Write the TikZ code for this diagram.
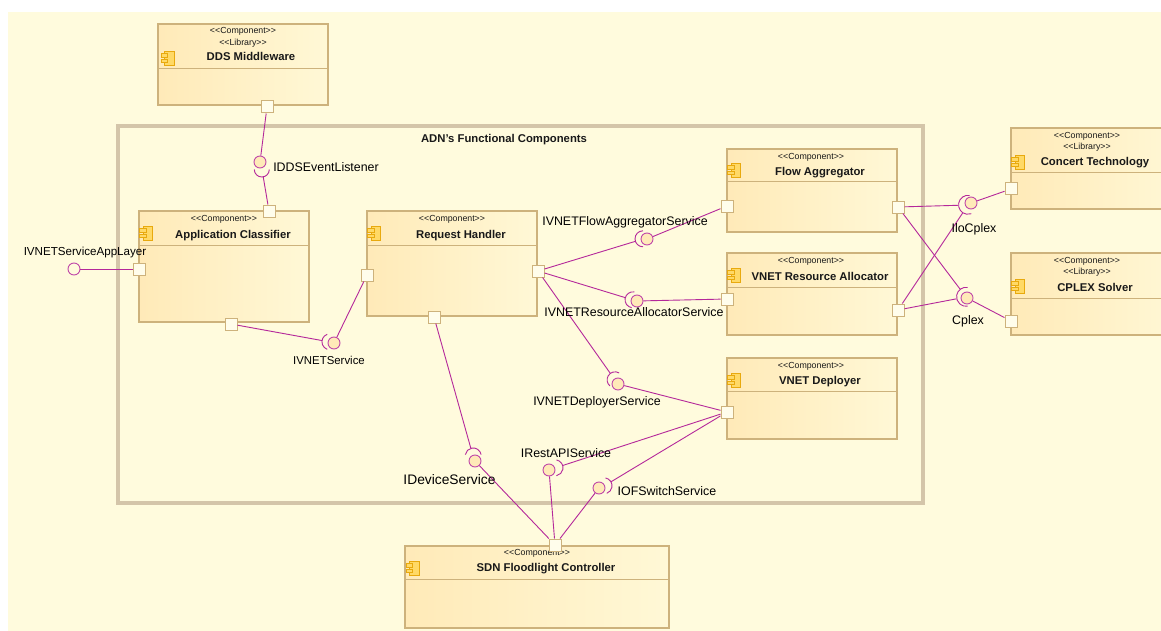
\documentclass[tikz,border=0pt]{standalone}
\usepackage{fontspec}
\setmainfont{Liberation Sans}
\usepackage{tikz}
\usetikzlibrary{shapes.geometric, arrows}
\definecolor{canvasyellow}{HTML}{FFFBDD}
\definecolor{framegrey}{HTML}{D4C5A9}
\definecolor{boxedge}{HTML}{CDB27C}
\definecolor{boxleft}{HTML}{FFEAB8}
\definecolor{boxright}{HTML}{FFF8D6}
\definecolor{linkpurple}{HTML}{B5289A}
\definecolor{iconorange}{HTML}{E8A90E}
\definecolor{iconfill}{HTML}{FFD966}
\tikzstyle{component} = [rectangle, draw=boxedge, line width=1.2pt, left color=boxleft, right color=boxright, minimum width=170pt, inner sep=0pt]
\tikzstyle{port} = [rectangle, draw=boxedge, line width=1pt, fill=canvasyellow!60!white, minimum width=12pt, minimum height=12pt, inner sep=0pt]
\tikzstyle{ball} = [circle, draw=linkpurple!85, line width=0.9pt, fill=boxleft, minimum size=12pt, inner sep=0pt]
\tikzstyle{socket} = [circle, minimum size=16pt, inner sep=0pt]
\tikzstyle{link} = [draw=linkpurple, line width=0.9pt]
\tikzstyle{divider} = [draw=boxedge, line width=1pt]
\tikzstyle{stereo} = [font=\fontsize{8.8}{10}\selectfont, inner sep=0pt, text=black!90, text height=7.3pt, text depth=1pt]
\tikzstyle{title} = [font=\fontsize{11.3}{13}\selectfont\bfseries, inner sep=0pt, text=black!90, text height=9pt, text depth=1pt]
\tikzstyle{iface} = [font=\fontsize{12.4}{14}\selectfont, inner sep=0pt, text=black, text height=10pt, text depth=1pt]
\tikzset{compicon/.pic={
    \draw[draw=iconorange, fill=iconfill, line width=0.8pt] (-3,-7) rectangle (6.5,7);
    \draw[draw=iconorange, fill=iconfill, line width=0.8pt] (-6.5,1) rectangle (0,4.5);
    \draw[draw=iconorange, fill=iconfill, line width=0.8pt] (-6.5,-4.5) rectangle (0,-1);
}}
\begin{document}
\begin{tikzpicture}[x=1pt,y=1pt]
  \clip (0,0) rectangle (1161,-631);
  \fill[white] (0,0) rectangle (1161,-631);
  \fill[canvasyellow] (8,-12) rectangle (1161,-631);
  \node (adn) [rectangle, draw=framegrey, line width=3.5pt, minimum width=805pt, minimum height=377pt, inner sep=0pt] at (520.5,-314.5) {};
  \node (adn title) [title] at (504,-139) {ADN's Functional Components};
  % components
  \node (dds) [component, minimum height=81pt] at (243,-64.5) {};
  \node (classifier) [component, minimum height=111pt] at (224,-266.5) {};
  \node (handler) [component, minimum height=105pt] at (452,-263.5) {};
  \node (aggregator) [component, minimum height=83pt] at (812,-190.5) {};
  \node (allocator) [component, minimum height=82pt] at (812,-294) {};
  \node (deployer) [component, minimum height=81pt] at (812,-398.5) {};
  \node (concert) [component, minimum height=81pt] at (1096,-168.5) {};
  \node (cplex) [component, minimum height=82pt] at (1096,-294) {};
  \node (sdn) [component, minimum width=264pt, minimum height=82pt] at (537,-587) {};
  \draw[divider] (158,-69) -- (328,-69);
  \draw[divider] (139,-245) -- (309,-245);
  \draw[divider] (367,-245) -- (537,-245);
  \draw[divider] (727,-182) -- (897,-182);
  \draw[divider] (727,-287) -- (897,-287);
  \draw[divider] (727,-391) -- (897,-391);
  \draw[divider] (1011,-173) -- (1181,-173);
  \draw[divider] (1011,-298) -- (1181,-298);
  \draw[divider] (405,-579) -- (669,-579);
  \pic at (167.5,-58) {compicon};
  \pic at (146,-233) {compicon};
  \pic at (374,-233) {compicon};
  \pic at (734,-170) {compicon};
  \pic at (734,-275) {compicon};
  \pic at (734,-380) {compicon};
  \pic at (1018,-162) {compicon};
  \pic at (1018,-286) {compicon};
  \pic at (412.5,-568) {compicon};
  % stereotypes and names
  \node (dds s1) [stereo] at (243,-30) {{<}{<}Component{>}{>}};
  \node (dds s2) [stereo] at (243,-42) {{<}{<}Library{>}{>}};
  \node (dds name) [title] at (251,-57) {DDS  Middleware};
  \node (classifier s1) [stereo] at (224,-218) {{<}{<}Component{>}{>}};
  \node (classifier name) [title] at (233,-234) {Application Classifier};
  \node (handler s1) [stereo] at (452,-218) {{<}{<}Component{>}{>}};
  \node (handler name) [title] at (461,-234) {Request Handler};
  \node (aggregator s1) [stereo] at (811,-156) {{<}{<}Component{>}{>}};
  \node (aggregator name) [title] at (820,-172) {Flow Aggregator};
  \node (allocator s1) [stereo] at (811,-260) {{<}{<}Component{>}{>}};
  \node (allocator name) [title] at (820,-276) {VNET Resource Allocator};
  \node (deployer s1) [stereo] at (811,-365) {{<}{<}Component{>}{>}};
  \node (deployer name) [title] at (820,-380) {VNET Deployer};
  \node (concert s1) [stereo] at (1087,-135) {{<}{<}Component{>}{>}};
  \node (concert s2) [stereo] at (1087,-146) {{<}{<}Library{>}{>}};
  \node (concert name) [title] at (1095,-162) {Concert Technology};
  \node (cplex s1) [stereo] at (1087,-260) {{<}{<}Component{>}{>}};
  \node (cplex s2) [stereo] at (1087,-271) {{<}{<}Library{>}{>}};
  \node (cplex name) [title] at (1095,-287) {CPLEX Solver};
  \node (sdn s1) [stereo] at (537,-552) {{<}{<}Component{>}{>}};
  \node (sdn name) [title] at (546,-567) {SDN Floodlight Controller};
  % ports
  \node (dds port) [port] at (267,-107) {};
  \node (classifier top) [port] at (269,-211) {};
  \node (classifier left) [port] at (139,-269) {};
  \node (classifier bottom) [port] at (231,-324) {};
  \node (handler left) [port] at (367,-275) {};
  \node (handler right) [port] at (538,-271) {};
  \node (handler bottom) [port] at (434,-317) {};
  \node (aggregator left) [port] at (727,-206) {};
  \node (aggregator right) [port] at (898,-207) {};
  \node (allocator left) [port] at (727,-299) {};
  \node (allocator right) [port] at (898,-310) {};
  \node (deployer left) [port] at (727,-412) {};
  \node (concert port) [port] at (1011,-189) {};
  \node (cplex port) [port] at (1011,-321) {};
  \node (sdn port) [port] at (555,-545) {};
  % provided and required interfaces
  \node (app ball) [ball, fill=none] at (74,-269) {};
  \node (listener ball) [ball] at (260,-162) {};
  \node (listener socket) [socket, minimum size=15pt] at (262,-169.5) {};
  \node (service ball) [ball] at (334,-343) {};
  \node (service socket) [socket] at (330,-342) {};
  \node (flow ball) [ball] at (647,-239) {};
  \node (flow socket) [socket] at (643,-239) {};
  \node (resource ball) [ball] at (637,-301) {};
  \node (resource socket) [socket] at (633,-300) {};
  \node (deploy ball) [ball] at (618,-384) {};
  \node (deploy socket) [socket] at (615,-380) {};
  \node (device ball) [ball] at (475,-461) {};
  \node (device socket) [socket] at (473,-456) {};
  \node (rest ball) [ball] at (549,-470) {};
  \node (rest socket) [socket] at (555,-468) {};
  \node (switch ball) [ball] at (599,-488) {};
  \node (switch socket) [socket] at (604,-486) {};
  \node (ilo ball) [ball] at (971,-203) {};
  \node (ilo socket) [socket, minimum size=19pt] at (968,-205) {};
  \node (cpl ball) [ball] at (967,-298) {};
  \node (cpl socket) [socket, minimum size=19pt] at (966,-297) {};
  \draw[link] (listener socket.180) arc[start angle=180, end angle=360, radius=7.5];
  \draw[link] (service socket.110) arc[start angle=110, end angle=250, radius=8];
  \draw[link] (flow socket.90) arc[start angle=90, end angle=270, radius=8];
  \draw[link] (resource socket.80) arc[start angle=80, end angle=260, radius=8];
  \draw[link] (deploy socket.60) arc[start angle=60, end angle=230, radius=8];
  \draw[link] (device socket.10) arc[start angle=10, end angle=170, radius=8];
  \draw[link] (rest socket.80) arc[start angle=80, end angle=-80, radius=8];
  \draw[link] (switch socket.80) arc[start angle=80, end angle=-70, radius=8];
  \draw[link] (ilo socket.80) arc[start angle=80, end angle=290, radius=9.5];
  \draw[link] (cpl socket.80) arc[start angle=80, end angle=280, radius=9.5];
  % connectors
  \draw[link] (app ball) -- (classifier left);
  \draw[link] (dds port) -- (listener ball);
  \draw[link] (listener socket) -- (classifier top);
  \draw[link] (classifier bottom) -- (service socket);
  \draw[link] (service ball) -- (handler left);
  \draw[link] (handler right) -- (flow socket);
  \draw[link] (flow ball) -- (aggregator left);
  \draw[link] (handler right) -- (resource socket);
  \draw[link] (resource ball) -- (allocator left);
  \draw[link] (handler right) -- (deploy socket);
  \draw[link] (deploy ball) -- (deployer left);
  \draw[link] (handler bottom) -- (device socket);
  \draw[link] (device ball) -- (sdn port);
  \draw[link] (deployer left) -- (rest socket);
  \draw[link] (rest ball) -- (sdn port);
  \draw[link] (deployer left) -- (switch socket);
  \draw[link] (switch ball) -- (sdn port);
  \draw[link] (aggregator right) -- (ilo socket);
  \draw[link] (allocator right) -- (ilo socket);
  \draw[link] (ilo ball) -- (concert port);
  \draw[link] (allocator right) -- (cpl socket);
  \draw[link] (aggregator right) -- (cpl socket);
  \draw[link] (cpl ball) -- (cplex port);
  % interface names
  \node (app label) [iface, font=\fontsize{11.6}{14}\selectfont] at (85,-251) {IVNETServiceAppLayer};
  \node (listener label) [iface] at (326,-167) {IDDSEventListener};
  \node (service label) [iface, font=\fontsize{11.4}{14}\selectfont] at (329,-360) {IVNETService};
  \node (flow label) [iface] at (625,-221) {IVNETFlowAggregatorService};
  \node (resource label) [iface] at (634,-312) {IVNETResourceAllocatorService};
  \node (deploy label) [iface] at (597,-401) {IVNETDeployerService};
  \node (device label) [iface, font=\fontsize{13.8}{15}\selectfont] at (449.5,-480) {IDeviceService};
  \node (rest label) [iface] at (566,-453) {IRestAPIService};
  \node (switch label) [iface] at (667,-491) {IOFSwitchService};
  \node (ilo label) [iface] at (974,-228) {IloCplex};
  \node (cpl label) [iface] at (968,-320) {Cplex};
\end{tikzpicture}
\end{document}
